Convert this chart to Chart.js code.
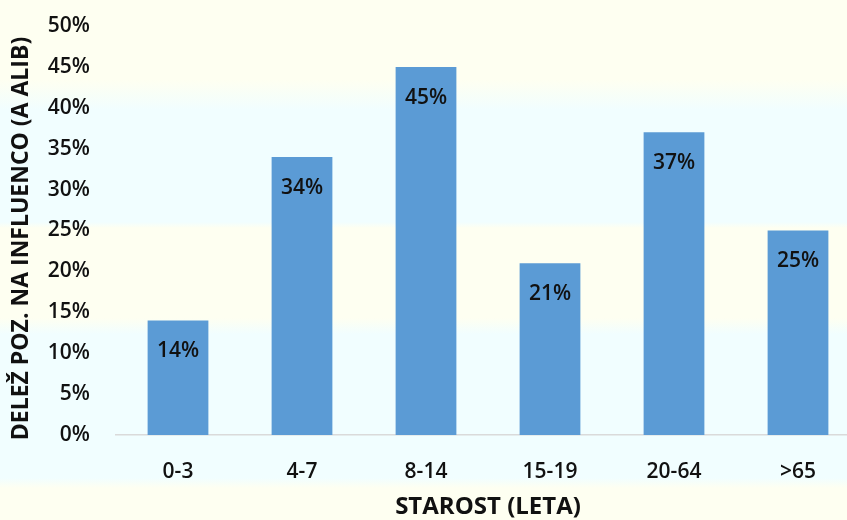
<!DOCTYPE html>
<html>
<head>
<meta charset="utf-8">
<script src="https://cdn.jsdelivr.net/npm/chart.js@4/dist/chart.umd.min.js"></script>
<style>
  html, body { margin: 0; padding: 0; overflow: hidden; }
  #wrap {
    position: relative; width: 847px; height: 520px; overflow: hidden;
    background: linear-gradient(to bottom,
      #FEFFF1 0px, #FEFFF1 80px, #F1FEFF 110px, #F1FEFF 222px,
      #FEFFF1 228px, #FEFFF1 318px, #F1FEFF 334px, #F1FEFF 478px,
      #FEFFF1 488px, #FEFFF1 520px);
  }
  #box { position: absolute; left: 0; top: 0; width: 860px; height: 520px; }
</style>
</head>
<body>
<div id="wrap"><div id="box"><canvas id="c"></canvas></div></div>
<script>
// Age groups and share of patients positive for influenza (%)
const ageGroups = ['0-3', '4-7', '8-14', '15-19', '20-64', '>65'];
const positiveShare = [14, 34, 45, 21, 37, 25];
const yTicks = [0, 5, 10, 15, 20, 25, 30, 35, 40, 45, 50];
const yTitle = 'DELEŽ POZ. NA INFLUENCO (A ALIB)';

const FONT = '"Open Sans", Lato, sans-serif';
const INK = '#111111';

// Writes each bar's value just below its top edge
const barValueLabels = {
  id: 'barValueLabels',
  afterDatasetsDraw(chart) {
    const ctx = chart.ctx;
    const meta = chart.getDatasetMeta(0);
    ctx.save();
    ctx.font = '600 21px ' + FONT;
    ctx.fillStyle = INK;
    ctx.textAlign = 'center';
    ctx.textBaseline = 'middle';
    meta.data.forEach((bar, i) => {
      ctx.fillText(positiveShare[i] + '%', bar.x, bar.y + 31);
    });
    ctx.restore();
  }
};

// Vertical axis title, set slightly below the middle of the value axis
const yAxisTitle = {
  id: 'yAxisTitle',
  afterDraw(chart) {
    const ctx = chart.ctx;
    const y = chart.scales.y;
    ctx.save();
    ctx.translate(y.left + 21, (y.top + y.bottom) / 2 + 8);
    ctx.rotate(-Math.PI / 2);
    ctx.font = '700 23px ' + FONT;
    ctx.fillStyle = INK;
    ctx.textAlign = 'center';
    ctx.textBaseline = 'middle';
    ctx.fillText(yTitle, 0, 0);
    ctx.restore();
  }
};

new Chart(document.getElementById('c'), {
  type: 'bar',
  data: {
    labels: ageGroups,
    datasets: [{
      data: positiveShare,
      backgroundColor: '#5B9BD5',
      borderWidth: 0,
      categoryPercentage: 1,
      barPercentage: 0.49
    }]
  },
  options: {
    responsive: true,
    maintainAspectRatio: false,
    animation: false,
    layout: { padding: { top: 26, right: 0, bottom: 0, left: 0 } },
    plugins: { legend: { display: false }, tooltip: { enabled: false } },
    scales: {
      x: {
        grid: { display: false, drawTicks: false },
        border: { display: true, color: '#DADADA', width: 1.5 },
        ticks: { color: INK, font: { family: FONT, size: 21, weight: '600' }, padding: 24 },
        title: {
          display: true, text: 'STAROST (LETA)', color: INK,
          font: { family: FONT, size: 24, weight: '700' },
          padding: { top: 0, bottom: -2 }
        },
        afterFit: s => { s.height = 85; s.paddingLeft = 0; s.paddingRight = 0; }
      },
      y: {
        min: 0, max: 50,
        afterBuildTicks: s => { s.ticks = yTicks.map(v => ({ value: v })); },
        grid: { display: false, drawTicks: false },
        border: { display: false },
        ticks: {
          color: INK, font: { family: FONT, size: 21, weight: '600' }, padding: 26,
          callback: v => v + '%'
        },
        title: { display: false },
        afterFit: s => { s.width = 116; s.paddingTop = 0; s.paddingBottom = 0; }
      }
    }
  },
  plugins: [barValueLabels, yAxisTitle]
});
</script>
</body>
</html>
